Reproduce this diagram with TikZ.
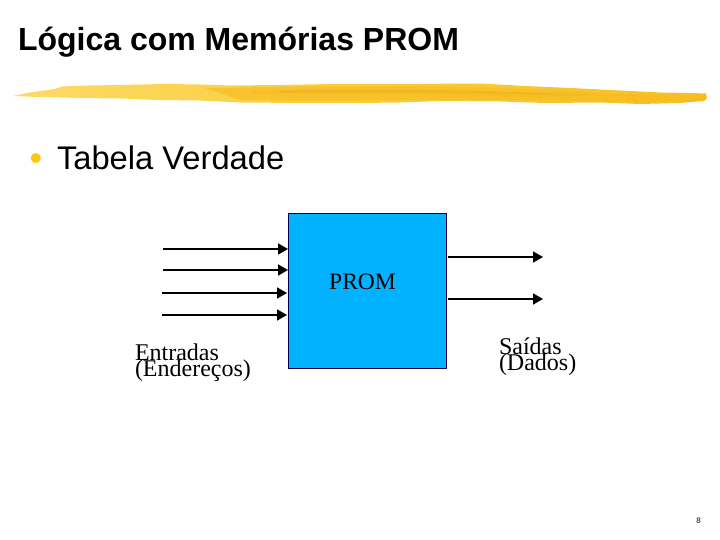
\documentclass[tikz,border=0pt]{standalone}
\usepackage{fontspec}
\setmainfont{Liberation Sans}
\newfontfamily\serifface{Liberation Serif}
\usetikzlibrary{arrows.meta}
\definecolor{promblue}{RGB}{0,178,255}
\definecolor{brushL}{RGB}{252,218,100}
\definecolor{brushM}{RGB}{250,205,60}
\definecolor{brushR}{RGB}{247,190,35}
\definecolor{brushC}{RGB}{232,172,25}
\definecolor{bulletgold}{RGB}{250,200,20}
\tikzset{
  x=1pt,y=-1pt,
  plain/.style={inner sep=0pt,outer sep=0pt},
  lbl/.style={plain,anchor=base west,font=\serifface\fontsize{24}{24}\selectfont,text=black},
  wire/.style={draw=black,line width=1.7pt,-{Triangle[length=10pt,width=11pt]}},
  block/.style={plain,draw=black!70!blue,line width=0.8pt,fill=promblue,minimum width=158pt,minimum height=155pt}
}
\begin{document}
\begin{tikzpicture}
\useasboundingbox (0,0) rectangle (720,540);
% brush stroke
\shade[left color=brushL,right color=brushR,middle color=brushM]
  (13,96) -- (30,92.5) -- (55,89) -- (62,86.5) -- (90,85.5) -- (120,85) -- (165,84) -- (200,84.5) -- (230,85.5) -- (280,85) -- (330,84) -- (400,84) -- (480,83.5) -- (525,86) -- (570,88) -- (610,90) -- (660,92.5) -- (690,93) -- (706,93.5) -- (707,98) -- (704,101) -- (680,103) -- (640,104) -- (600,102.5) -- (545,103) -- (500,101.5) -- (440,101) -- (400,102.5) -- (360,103) -- (300,103) -- (240,102.5) -- (200,100.5) -- (160,100) -- (120,98.5) -- (80,98) -- (40,97) -- cycle;
\fill[brushC,opacity=.45] (250,91) -- (400,89.5) -- (520,92) -- (640,96) -- (530,96.5) -- (400,94) -- (250,94) -- cycle;
\fill[brushR,opacity=.7] (205,88) -- (300,86.5) -- (420,86) -- (500,88) -- (600,93) -- (702,97) -- (690,101) -- (620,102) -- (520,100) -- (420,100) -- (300,101) -- (240,100) -- cycle;
\fill[brushC,opacity=.35] (280,90) -- (450,90) -- (600,95) -- (450,93) -- (280,93) -- cycle;
\node[plain,anchor=base west,font=\bfseries\fontsize{32}{32}\selectfont,text=black] (title) at (18,51) {L\'ogica com Mem\'orias PROM};
\node[plain,anchor=base west,font=\fontsize{36}{36}\selectfont,text=bulletgold] (bullet) at (29.7,170.7) {\textbullet};
\node[plain,anchor=base west,font=\fontsize{32.7}{32.7}\selectfont,text=black] (item) at (57,169.5) {Tabela Verdade};
\node[block,anchor=north west] (prom) at (288.5,213) {};
\node[plain,anchor=base,font=\serifface\fontsize{23.5}{23.5}\selectfont] (promlabel) at (362.5,289) {PROM};
\coordinate (i1) at (163,249); \coordinate (i1e) at (288,249);
\coordinate (i2) at (163,270); \coordinate (i2e) at (288,270);
\coordinate (i3) at (162,293); \coordinate (i3e) at (287,293);
\coordinate (i4) at (162,315); \coordinate (i4e) at (287,315);
\coordinate (o1) at (448,257); \coordinate (o1e) at (543,257);
\coordinate (o2) at (448,299); \coordinate (o2e) at (543,299);
\foreach \a/\b in {i1/i1e,i2/i2e,i3/i3e,i4/i4e,o1/o1e,o2/o2e} \draw[wire] (\a) -- (\b);
\node[lbl] (ent) at (135,360) {Entradas};
\node[lbl] (end) at (135,376) {(Endere\c{c}os)};
\node[lbl] (sai) at (499,354.5) {Sa\'idas};
\node[lbl] (dad) at (499,370.5) {(Dados)};
\node[plain,anchor=base,font=\fontsize{8}{8}\selectfont] (page) at (698.5,523) {8};
\end{tikzpicture}
\end{document}
